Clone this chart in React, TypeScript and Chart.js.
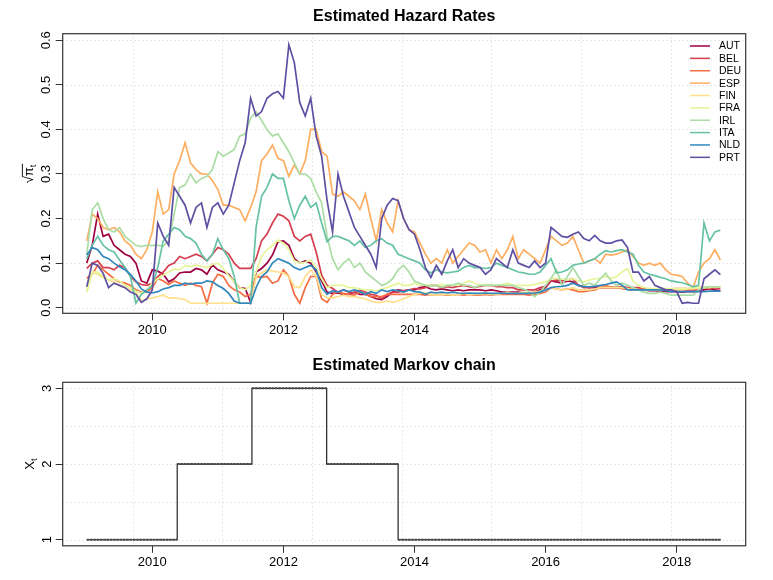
import React, { useEffect, useRef } from "react";
import { Chart, registerables } from "chart.js";

Chart.register(...registerables);

const FONT = '"Liberation Sans", Arial, Helvetica, sans-serif';

// ---------- data ----------
const months = [
  "2009-01","2009-02","2009-03","2009-04","2009-05","2009-06","2009-07","2009-08","2009-09","2009-10","2009-11","2009-12",
  "2010-01","2010-02","2010-03","2010-04","2010-05","2010-06","2010-07","2010-08","2010-09","2010-10","2010-11","2010-12",
  "2011-01","2011-02","2011-03","2011-04","2011-05","2011-06","2011-07","2011-08","2011-09","2011-10","2011-11","2011-12",
  "2012-01","2012-02","2012-03","2012-04","2012-05","2012-06","2012-07","2012-08","2012-09","2012-10","2012-11","2012-12",
  "2013-01","2013-02","2013-03","2013-04","2013-05","2013-06","2013-07","2013-08","2013-09","2013-10","2013-11","2013-12",
  "2014-01","2014-02","2014-03","2014-04","2014-05","2014-06","2014-07","2014-08","2014-09","2014-10","2014-11","2014-12",
  "2015-01","2015-02","2015-03","2015-04","2015-05","2015-06","2015-07","2015-08","2015-09","2015-10","2015-11","2015-12",
  "2016-01","2016-02","2016-03","2016-04","2016-05","2016-06","2016-07","2016-08","2016-09","2016-10","2016-11","2016-12",
  "2017-01","2017-02","2017-03","2017-04","2017-05","2017-06","2017-07","2017-08","2017-09","2017-10","2017-11","2017-12",
  "2018-01","2018-02","2018-03","2018-04","2018-05","2018-06","2018-07","2018-08","2018-09",
];

const countries = ["AUT", "BEL", "DEU", "ESP", "FIN", "FRA", "IRL", "ITA", "NLD", "PRT"];
const colors = ["#9E0142", "#D53E4F", "#F46D43", "#FDAE61", "#FEE08B", "#E6F598", "#ABDDA4", "#66C2A5", "#3288BD", "#5E4FA2"];

const AUT = [
  0.100, 0.140, 0.210, 0.160, 0.165, 0.140, 0.130, 0.120, 0.115, 0.100, 0.060, 0.055,
  0.085, 0.082, 0.075, 0.058, 0.065, 0.078, 0.080, 0.080, 0.088, 0.085, 0.075, 0.096,
  0.085, 0.080, 0.075, 0.058, 0.045, 0.043, 0.012, 0.080, 0.088, 0.100, 0.118, 0.148,
  0.150, 0.140, 0.110, 0.100, 0.105, 0.100, 0.080, 0.060, 0.035, 0.032, 0.033, 0.030,
  0.030, 0.035, 0.030, 0.030, 0.025, 0.020, 0.018, 0.025, 0.035, 0.040, 0.038, 0.040,
  0.040, 0.045, 0.047, 0.042, 0.040, 0.042, 0.040, 0.038, 0.040, 0.038, 0.040, 0.040,
  0.040, 0.038, 0.040, 0.038, 0.035, 0.035, 0.035, 0.035, 0.033, 0.033, 0.035, 0.040,
  0.045, 0.060, 0.058, 0.055, 0.060, 0.058, 0.050, 0.048, 0.045, 0.045, 0.045, 0.045,
  0.045, 0.045, 0.043, 0.042, 0.040, 0.040, 0.040, 0.038, 0.038, 0.037, 0.036, 0.036,
  0.036, 0.035, 0.036, 0.036, 0.037, 0.040, 0.042, 0.040, 0.038,
];
const BEL = [
  0.088, 0.100, 0.105, 0.090, 0.090, 0.085, 0.095, 0.090, 0.070, 0.058, 0.052, 0.050,
  0.055, 0.070, 0.080, 0.095, 0.100, 0.115, 0.110, 0.115, 0.120, 0.115, 0.105, 0.120,
  0.135, 0.130, 0.120, 0.100, 0.088, 0.088, 0.088, 0.110, 0.150, 0.165, 0.190, 0.210,
  0.205, 0.195, 0.160, 0.150, 0.160, 0.165, 0.125, 0.073, 0.050, 0.043, 0.035, 0.040,
  0.035, 0.033, 0.040, 0.035, 0.030, 0.028, 0.020, 0.030, 0.035, 0.035, 0.038, 0.040,
  0.043, 0.042, 0.045, 0.050, 0.050, 0.045, 0.047, 0.045, 0.048, 0.050, 0.047, 0.045,
  0.048, 0.050, 0.050, 0.047, 0.047, 0.045, 0.045, 0.040, 0.040, 0.040, 0.040, 0.045,
  0.048, 0.060, 0.062, 0.060, 0.062, 0.065, 0.050, 0.045, 0.045, 0.048, 0.045, 0.045,
  0.045, 0.045, 0.048, 0.045, 0.045, 0.045, 0.042, 0.042, 0.040, 0.040, 0.042, 0.040,
  0.040, 0.040, 0.040, 0.040, 0.040, 0.045, 0.042, 0.045, 0.042,
];
const DEU = [
  0.066, 0.075, 0.095, 0.085, 0.075, 0.065, 0.058, 0.055, 0.050, 0.040, 0.035, 0.035,
  0.045, 0.066, 0.060, 0.052, 0.060, 0.055, 0.050, 0.055, 0.050, 0.047, 0.010, 0.055,
  0.075, 0.070, 0.050, 0.040, 0.035, 0.025, 0.030, 0.070, 0.068, 0.070, 0.055, 0.060,
  0.085, 0.070, 0.030, 0.010, 0.045, 0.070, 0.070, 0.020, 0.012, 0.030, 0.035, 0.032,
  0.030, 0.028, 0.035, 0.030, 0.025, 0.025, 0.025, 0.030, 0.030, 0.030, 0.030, 0.030,
  0.030, 0.030, 0.028, 0.030, 0.028, 0.030, 0.028, 0.028, 0.030, 0.028, 0.030, 0.028,
  0.028, 0.030, 0.028, 0.030, 0.030, 0.030, 0.030, 0.030, 0.030, 0.028, 0.030, 0.032,
  0.035, 0.045, 0.042, 0.040, 0.042, 0.040, 0.036, 0.036, 0.038, 0.040, 0.045, 0.050,
  0.046, 0.045, 0.043, 0.042, 0.040, 0.042, 0.040, 0.042, 0.040, 0.040, 0.040, 0.042,
  0.043, 0.043, 0.043, 0.043, 0.045, 0.046, 0.046, 0.047, 0.047,
];
const ESP = [
  0.150, 0.210, 0.200, 0.180, 0.175, 0.180, 0.170, 0.150, 0.140, 0.120, 0.110, 0.130,
  0.170, 0.260, 0.210, 0.220, 0.300, 0.330, 0.370, 0.325, 0.310, 0.300, 0.300, 0.285,
  0.265, 0.230, 0.230, 0.225, 0.220, 0.195, 0.225, 0.260, 0.330, 0.345, 0.365, 0.335,
  0.330, 0.295, 0.320, 0.300, 0.330, 0.400, 0.400, 0.350, 0.340, 0.255, 0.250, 0.260,
  0.250, 0.240, 0.220, 0.255, 0.200, 0.150, 0.220, 0.190, 0.170, 0.240, 0.200, 0.175,
  0.170, 0.145, 0.120, 0.100, 0.110, 0.100, 0.130, 0.100, 0.115, 0.130, 0.145, 0.140,
  0.125, 0.130, 0.100, 0.130, 0.110, 0.130, 0.160, 0.110, 0.130, 0.120, 0.110, 0.100,
  0.130, 0.160, 0.150, 0.140, 0.145, 0.160, 0.130, 0.100, 0.105, 0.110, 0.100, 0.120,
  0.118, 0.120, 0.125, 0.130, 0.115, 0.100, 0.095, 0.100, 0.095, 0.100, 0.085, 0.075,
  0.073, 0.070, 0.055, 0.045, 0.080, 0.100, 0.110, 0.130, 0.107,
];
const FIN = [
  0.035, 0.080, 0.075, 0.068, 0.062, 0.058, 0.050, 0.045, 0.040, 0.035, 0.015, 0.020,
  0.022, 0.025, 0.028, 0.022, 0.022, 0.020, 0.018, 0.010, 0.010, 0.010, 0.010, 0.010,
  0.010, 0.010, 0.010, 0.010, 0.010, 0.010, 0.010, 0.070, 0.078, 0.085, 0.082, 0.080,
  0.078, 0.070, 0.047, 0.045, 0.070, 0.085, 0.070, 0.030, 0.022, 0.022, 0.025, 0.028,
  0.025, 0.025, 0.022, 0.020, 0.015, 0.012, 0.012, 0.015, 0.012, 0.015, 0.020, 0.025,
  0.030, 0.032, 0.033, 0.030, 0.028, 0.030, 0.030, 0.028, 0.030, 0.032, 0.030, 0.030,
  0.030, 0.032, 0.030, 0.030, 0.032, 0.035, 0.033, 0.033, 0.035, 0.033, 0.035, 0.037,
  0.040, 0.045, 0.042, 0.040, 0.042, 0.045, 0.040, 0.040, 0.040, 0.042, 0.045, 0.045,
  0.045, 0.045, 0.045, 0.043, 0.040, 0.040, 0.040, 0.040, 0.040, 0.040, 0.040, 0.040,
  0.040, 0.040, 0.042, 0.042, 0.043, 0.045, 0.045, 0.047, 0.047,
];
const FRA = [
  0.035, 0.080, 0.080, 0.070, 0.062, 0.065, 0.060, 0.050, 0.045, 0.037, 0.033, 0.040,
  0.055, 0.065, 0.073, 0.080, 0.087, 0.085, 0.095, 0.092, 0.096, 0.093, 0.090, 0.097,
  0.100, 0.088, 0.072, 0.058, 0.045, 0.040, 0.050, 0.080, 0.115, 0.130, 0.140, 0.152,
  0.145, 0.130, 0.105, 0.100, 0.102, 0.107, 0.090, 0.065, 0.045, 0.050, 0.050, 0.050,
  0.045, 0.045, 0.042, 0.040, 0.040, 0.038, 0.042, 0.045, 0.050, 0.055, 0.050, 0.050,
  0.055, 0.050, 0.052, 0.050, 0.050, 0.052, 0.050, 0.052, 0.050, 0.055, 0.060, 0.055,
  0.050, 0.052, 0.050, 0.050, 0.052, 0.055, 0.050, 0.050, 0.050, 0.050, 0.052, 0.055,
  0.058, 0.065, 0.066, 0.065, 0.062, 0.065, 0.060, 0.058, 0.062, 0.065, 0.066, 0.070,
  0.066, 0.070, 0.080, 0.088, 0.060, 0.050, 0.045, 0.043, 0.043, 0.043, 0.043, 0.043,
  0.043, 0.043, 0.043, 0.045, 0.045, 0.047, 0.047, 0.047, 0.047,
];
const IRL = [
  0.120, 0.220, 0.235, 0.200, 0.175, 0.170, 0.180, 0.160, 0.150, 0.140, 0.137, 0.140,
  0.140, 0.140, 0.138, 0.150, 0.210, 0.270, 0.275, 0.300, 0.280, 0.290, 0.295, 0.310,
  0.350, 0.340, 0.347, 0.355, 0.385, 0.390, 0.425, 0.440, 0.420, 0.400, 0.385, 0.390,
  0.370, 0.350, 0.325, 0.300, 0.300, 0.290, 0.260, 0.235, 0.160, 0.110, 0.085, 0.100,
  0.110, 0.090, 0.100, 0.080, 0.070, 0.060, 0.050, 0.055, 0.065, 0.085, 0.095, 0.080,
  0.060, 0.055, 0.050, 0.048, 0.050, 0.045, 0.050, 0.050, 0.055, 0.050, 0.050, 0.045,
  0.050, 0.050, 0.050, 0.050, 0.050, 0.050, 0.050, 0.045, 0.042, 0.036, 0.025, 0.035,
  0.050, 0.066, 0.085, 0.050, 0.070, 0.090, 0.070, 0.050, 0.055, 0.050, 0.065, 0.077,
  0.060, 0.050, 0.055, 0.050, 0.045, 0.040, 0.035, 0.032, 0.032, 0.035, 0.032, 0.028,
  0.028, 0.028, 0.028, 0.028, 0.040, 0.045, 0.047, 0.047, 0.047,
];
const ITA = [
  0.110, 0.140, 0.160, 0.140, 0.130, 0.125, 0.107, 0.090, 0.070, 0.010, 0.030, 0.040,
  0.050, 0.090, 0.150, 0.165, 0.180, 0.175, 0.160, 0.155, 0.145, 0.120, 0.105, 0.120,
  0.155, 0.130, 0.110, 0.070, 0.010, 0.010, 0.010, 0.180, 0.250, 0.270, 0.300, 0.290,
  0.290, 0.240, 0.200, 0.230, 0.250, 0.225, 0.235, 0.190, 0.148, 0.160, 0.160, 0.155,
  0.150, 0.140, 0.150, 0.135, 0.140, 0.150, 0.155, 0.145, 0.140, 0.120, 0.115, 0.110,
  0.105, 0.100, 0.085, 0.078, 0.085, 0.080, 0.078, 0.080, 0.082, 0.090, 0.095, 0.090,
  0.090, 0.088, 0.090, 0.100, 0.095, 0.090, 0.085, 0.080, 0.078, 0.075, 0.075, 0.080,
  0.095, 0.110, 0.078, 0.080, 0.085, 0.095, 0.098, 0.100, 0.105, 0.110, 0.120, 0.128,
  0.125, 0.128, 0.130, 0.125, 0.120, 0.095, 0.080, 0.075, 0.072, 0.068, 0.065, 0.060,
  0.058, 0.056, 0.052, 0.047, 0.050, 0.190, 0.150, 0.170, 0.174,
];
const NLD = [
  0.118, 0.135, 0.130, 0.115, 0.110, 0.100, 0.092, 0.085, 0.075, 0.060, 0.042, 0.035,
  0.033, 0.036, 0.042, 0.045, 0.050, 0.050, 0.055, 0.053, 0.055, 0.055, 0.060, 0.058,
  0.050, 0.043, 0.032, 0.015, 0.010, 0.010, 0.010, 0.045, 0.070, 0.080, 0.100, 0.110,
  0.105, 0.100, 0.090, 0.085, 0.090, 0.095, 0.085, 0.045, 0.030, 0.038, 0.035, 0.040,
  0.036, 0.040, 0.036, 0.030, 0.036, 0.032, 0.040, 0.036, 0.040, 0.038, 0.035, 0.040,
  0.036, 0.035, 0.030, 0.035, 0.033, 0.035, 0.033, 0.035, 0.033, 0.032, 0.033, 0.032,
  0.032, 0.033, 0.032, 0.032, 0.033, 0.032, 0.032, 0.032, 0.032, 0.032, 0.033, 0.035,
  0.040, 0.045, 0.047, 0.048, 0.050, 0.055, 0.050, 0.047, 0.047, 0.048, 0.050, 0.052,
  0.055, 0.058, 0.050, 0.040, 0.040, 0.040, 0.040, 0.040, 0.040, 0.040, 0.038, 0.036,
  0.036, 0.036, 0.036, 0.036, 0.036, 0.036, 0.037, 0.037, 0.037,
];
const PRT = [
  0.047, 0.100, 0.095, 0.077, 0.045, 0.055, 0.050, 0.045, 0.035, 0.030, 0.012, 0.020,
  0.040, 0.190, 0.160, 0.140, 0.270, 0.250, 0.230, 0.190, 0.225, 0.235, 0.180, 0.225,
  0.235, 0.210, 0.230, 0.280, 0.330, 0.370, 0.470, 0.430, 0.440, 0.470, 0.480, 0.485,
  0.470, 0.590, 0.550, 0.460, 0.430, 0.470, 0.385, 0.340, 0.240, 0.170, 0.300, 0.250,
  0.215, 0.180, 0.160, 0.140, 0.120, 0.090, 0.200, 0.230, 0.245, 0.240, 0.200, 0.175,
  0.165, 0.130, 0.090, 0.068, 0.095, 0.075, 0.105, 0.130, 0.090, 0.110, 0.100, 0.095,
  0.090, 0.075, 0.085, 0.110, 0.100, 0.090, 0.130, 0.100, 0.095, 0.090, 0.105, 0.090,
  0.100, 0.180, 0.170, 0.160, 0.158, 0.165, 0.170, 0.155, 0.150, 0.162, 0.150, 0.145,
  0.145, 0.150, 0.152, 0.135, 0.080, 0.080, 0.060, 0.070, 0.050, 0.045, 0.040, 0.040,
  0.036, 0.010, 0.012, 0.010, 0.010, 0.065, 0.075, 0.085, 0.074,
];
const hazardSeries = [AUT, BEL, DEU, ESP, FIN, FRA, IRL, ITA, NLD, PRT];

const xTickYears = [2010, 2012, 2014, 2016, 2018];
const gridDays = [14500, 15000, 15500, 16000, 16500, 17000, 17500];
const hazardTicks = [0, 0.1, 0.2, 0.3, 0.4, 0.5, 0.6];
const chainTicks = [1, 2, 3];
const chainGrid = [1, 1.5, 2, 2.5, 3];

const regimeStarts = [2009.0, 2010.38, 2011.52, 2012.66, 2013.75];
const regimeStates = [1, 2, 3, 2, 1];
const chainEnd = 2018.67;

// ---------- helpers ----------
const X_MIN = 2008.633;
const X_MAX = 2019.053;
const toYear = (s: string) => parseInt(s.slice(0, 4), 10) + (parseInt(s.slice(5, 7), 10) - 1) / 12;
const dayToYear = (d: number) => 1970 + d / 365.25;

function xScale(height: number) {
  return {
    type: "linear" as const,
    min: X_MIN,
    max: X_MAX,
    afterBuildTicks: (axis: any) => {
      axis.ticks = xTickYears.map((v) => ({ value: v }));
    },
    afterFit: (axis: any) => {
      axis.height = height;
    },
    grid: { display: true, drawOnChartArea: false, drawTicks: true, tickLength: 7, tickColor: "#333", tickWidth: 1 },
    border: { display: false },
    ticks: {
      color: "#000",
      font: { family: FONT, size: 13 },
      padding: 2,
      maxRotation: 0,
      minRotation: 0,
      autoSkip: false,
      callback: (v: any) => String(v),
    },
  };
}

function yScale(min: number, max: number, ticks: number[], fmt: (v: number) => string, pad: number) {
  return {
    type: "linear" as const,
    min,
    max,
    afterBuildTicks: (axis: any) => {
      axis.ticks = ticks.map((v) => ({ value: v }));
    },
    afterFit: (axis: any) => {
      axis.width = 62.7;
    },
    grid: { display: true, drawOnChartArea: false, drawTicks: true, tickLength: 7, tickColor: "#333", tickWidth: 1 },
    border: { display: false },
    ticks: {
      color: "#000",
      font: { family: FONT, size: 13 },
      padding: pad,
      minRotation: 90,
      maxRotation: 90,
      crossAlign: "center" as const,
      autoSkip: false,
      callback: (v: any) => fmt(Number(v)),
    },
  };
}

function decorPlugin(opts: {
  id: string;
  title: string;
  titleY: number;
  gridY: number[];
  drawYLabel: (ctx: CanvasRenderingContext2D, cx: number, cy: number) => void;
  legend: boolean;
}) {
  return {
    id: opts.id,
    beforeDatasetsDraw(chart: any) {
      const { ctx, chartArea: ca, scales } = chart;
      ctx.save();
      ctx.strokeStyle = "#d3d3d3";
      ctx.lineWidth = 1;
      ctx.setLineDash([1, 3]);
      for (const d of gridDays) {
        const x = Math.round(scales.x.getPixelForValue(dayToYear(d))) + 0.5;
        ctx.beginPath();
        ctx.moveTo(x, ca.top);
        ctx.lineTo(x, ca.bottom);
        ctx.stroke();
      }
      for (const v of opts.gridY) {
        const y = Math.round(scales.y.getPixelForValue(v)) + 0.5;
        ctx.beginPath();
        ctx.moveTo(ca.left, y);
        ctx.lineTo(ca.right, y);
        ctx.stroke();
      }
      ctx.restore();
    },
    afterDatasetsDraw(chart: any) {
      const { ctx, chartArea: ca } = chart;
      ctx.save();
      // box
      ctx.strokeStyle = "#333";
      ctx.lineWidth = 1.2;
      ctx.setLineDash([]);
      ctx.strokeRect(ca.left, ca.top, ca.right - ca.left, ca.bottom - ca.top);
      // title
      ctx.fillStyle = "#000";
      ctx.font = `bold 16px ${FONT}`;
      ctx.textAlign = "center";
      ctx.textBaseline = "middle";
      ctx.fillText(opts.title, (ca.left + ca.right) / 2, opts.titleY);
      // y label
      opts.drawYLabel(ctx, 29, (ca.top + ca.bottom) / 2);
      // legend
      if (opts.legend) {
        const ds = chart.data.datasets;
        ctx.font = `10.5px ${FONT}`;
        ctx.textAlign = "left";
        ctx.textBaseline = "middle";
        for (let i = 0; i < ds.length; i++) {
          const y = 46 + 12.37 * i;
          ctx.strokeStyle = ds[i].borderColor;
          ctx.lineWidth = 1.5;
          ctx.beginPath();
          ctx.moveTo(690, y);
          ctx.lineTo(710, y);
          ctx.stroke();
          ctx.fillStyle = "#000";
          ctx.fillText(ds[i].label, 719, y + 0.5);
        }
      }
      ctx.restore();
    },
  };
}

function drawSqrtPi(ctx: CanvasRenderingContext2D, cx: number, cy: number) {
  ctx.save();
  ctx.translate(cx, cy);
  ctx.rotate(-Math.PI / 2);
  ctx.fillStyle = "#000";
  ctx.strokeStyle = "#000";
  const big = `13px ${FONT}`;
  const small = `9px ${FONT}`;
  ctx.font = big;
  const wS = ctx.measureText("\u221A").width;
  const wP = ctx.measureText("\u03C0").width;
  ctx.font = small;
  const wT = ctx.measureText("t").width;
  const total = wS + wP + wT + 1;
  let x = -total / 2;
  const base = 4;
  ctx.textAlign = "left";
  ctx.textBaseline = "alphabetic";
  ctx.font = big;
  ctx.fillText("\u221A", x, base);
  x += wS;
  const barStart = x - 0.8;
  ctx.fillText("\u03C0", x, base);
  x += wP;
  ctx.font = small;
  ctx.fillText("t", x, base + 3);
  x += wT + 1;
  ctx.lineWidth = 0.9;
  ctx.beginPath();
  ctx.moveTo(barStart, base - 10.6);
  ctx.lineTo(x, base - 10.6);
  ctx.stroke();
  ctx.restore();
}

function drawXt(ctx: CanvasRenderingContext2D, cx: number, cy: number) {
  ctx.save();
  ctx.translate(cx, cy);
  ctx.rotate(-Math.PI / 2);
  ctx.fillStyle = "#000";
  const big = `13px ${FONT}`;
  const small = `9px ${FONT}`;
  ctx.font = big;
  const wX = ctx.measureText("X").width;
  ctx.font = small;
  const wT = ctx.measureText("t").width;
  let x = -(wX + wT) / 2;
  const base = 4.5;
  ctx.textAlign = "left";
  ctx.textBaseline = "alphabetic";
  ctx.font = big;
  ctx.fillText("X", x, base);
  x += wX;
  ctx.font = small;
  ctx.fillText("t", x, base + 3);
  ctx.restore();
}

export default function App() {
  const topRef = useRef<HTMLCanvasElement | null>(null);
  const botRef = useRef<HTMLCanvasElement | null>(null);

  useEffect(() => {
    if (!topRef.current || !botRef.current) return;
    const xs = months.map(toYear);

    const hazardDatasets = countries.map((c, i) => ({
      label: c,
      data: xs.map((x, j) => ({ x, y: hazardSeries[i][j] })),
      borderColor: colors[i],
      backgroundColor: colors[i],
      borderWidth: 1.7,
      pointRadius: 0,
      fill: false,
      tension: 0,
      order: countries.length - 1 - i,
    }));

    const top = new Chart(topRef.current, {
      type: "line",
      data: { datasets: hazardDatasets as any },
      options: {
        responsive: false,
        animation: false,
        events: [],
        layout: { padding: { top: 33.7, right: 27.3, left: 0, bottom: 0 } },
        plugins: { legend: { display: false }, tooltip: { enabled: false }, title: { display: false } },
        scales: {
          x: xScale(345 - 313.3) as any,
          y: yScale(-0.0126, 0.6148, hazardTicks, (v) => v.toFixed(1), 0) as any,
        },
      },
      plugins: [
        decorPlugin({
          id: "decorTop",
          title: "Estimated Hazard Rates",
          titleY: 17,
          gridY: hazardTicks,
          drawYLabel: drawSqrtPi,
          legend: true,
        }) as any,
      ],
    });

    const stepData = regimeStarts.map((t, k) => ({ x: t, y: regimeStates[k] }));
    stepData.push({ x: chainEnd, y: regimeStates[regimeStates.length - 1] });
    const levelData: { x: number; y: number | null }[] = [];
    regimeStarts.forEach((t, k) => {
      const end = k + 1 < regimeStarts.length ? regimeStarts[k + 1] : chainEnd;
      levelData.push({ x: t, y: regimeStates[k] });
      levelData.push({ x: end, y: regimeStates[k] });
      levelData.push({ x: end, y: null });
    });

    const bot = new Chart(botRef.current, {
      type: "line",
      data: {
        datasets: [
          {
            label: "levels",
            data: levelData as any,
            borderColor: "#4a4a4a",
            borderWidth: 2,
            borderDash: [2.4, 0.9],
            pointRadius: 0,
            spanGaps: false,
            fill: false,
            order: 0,
          },
          {
            label: "chain",
            data: stepData,
            borderColor: "#222",
            borderWidth: 1.2,
            stepped: "before",
            pointRadius: 0,
            fill: false,
            order: 1,
          },
        ] as any,
      },
      options: {
        responsive: false,
        animation: false,
        events: [],
        layout: { padding: { top: 37.3, right: 27.3, left: 0, bottom: 0 } },
        plugins: { legend: { display: false }, tooltip: { enabled: false }, title: { display: false } },
        scales: {
          x: xScale(235 - 200.8) as any,
          y: yScale(0.92, 3.08, chainTicks, (v) => String(Math.round(v)), 5) as any,
        },
      },
      plugins: [
        decorPlugin({
          id: "decorBot",
          title: "Estimated Markov chain",
          titleY: 21,
          gridY: chainGrid,
          drawYLabel: drawXt,
          legend: false,
        }) as any,
      ],
    });

    return () => {
      top.destroy();
      bot.destroy();
    };
  }, []);

  return (
    <div style={{ position: "absolute", left: 0, top: 0, width: 773, height: 580, background: "#fff" }}>
      <canvas ref={topRef} width={773} height={345} style={{ position: "absolute", left: 0, top: 0, width: 773, height: 345 }} />
      <canvas ref={botRef} width={773} height={235} style={{ position: "absolute", left: 0, top: 345, width: 773, height: 235 }} />
    </div>
  );
}
